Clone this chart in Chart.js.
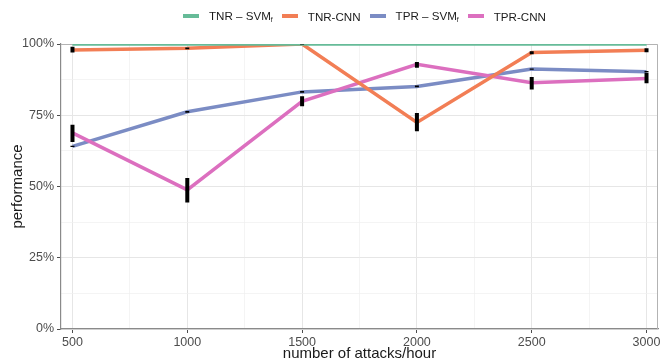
<!DOCTYPE html>
<html>
<head>
<meta charset="utf-8">
<script src="https://cdn.jsdelivr.net/npm/chart.js@4"></script>
<style>
  body { margin: 0; background: #fff; font-family: "Liberation Sans", Arial, sans-serif; }
  #wrap { position: relative; width: 668px; height: 363px; }
  #legend { position: absolute; top: 9px; left: 183px; display: flex; align-items: center; font-size: 11.6px; color: #1a1a1a; }
  #legend .item { display: flex; align-items: center; margin-right: 9px; }
  #legend .sw { width: 16px; height: 4px; margin-right: 10px; }
  #legend sub { font-size: 7px; vertical-align: -2px; }
</style>
</head>
<body>
<div id="wrap">
  <canvas id="myChartCanvas" width="668" height="363"></canvas>
  <div id="legend"></div>
</div>
<script>
var attacks = [500, 1000, 1500, 2000, 2500, 3000];
var xTicks = [500, 750, 1000, 1250, 1500, 1750, 2000, 2250, 2500, 2750, 3000];
var yTicks = [0, 0.125, 0.25, 0.375, 0.5, 0.625, 0.75, 0.875, 1];

var tnr_svm = [1, 1, 1, 1, 1, 1];
var tnr_cnn = [0.979, 0.985, 1.0, 0.725, 0.970, 0.978];
var tpr_svm = [0.641, 0.762, 0.832, 0.851, 0.912, 0.903];
var tpr_cnn = [0.688, 0.488, 0.799, 0.929, 0.864, 0.879];

// error bar ends
var tnr_cnn_lo = [0.970, 0.982, 0.998, 0.694, 0.964, 0.971];
var tnr_cnn_hi = [0.990, 0.988, 1.000, 0.758, 0.975, 0.985];
var tpr_svm_lo = [0.639, 0.759, 0.829, 0.848, 0.910, 0.901];
var tpr_svm_hi = [0.643, 0.765, 0.835, 0.854, 0.914, 0.905];
var tpr_cnn_lo = [0.656, 0.444, 0.782, 0.917, 0.840, 0.862];
var tpr_cnn_hi = [0.717, 0.530, 0.817, 0.937, 0.884, 0.899];

var series = [
    { label: 'TNR \u2013 SVM', sub: 'f', values: tnr_svm, color: '#66bb98', lo: null, hi: null, order: 1 },
    { label: 'TNR-CNN', sub: '', values: tnr_cnn, color: '#f27e55', lo: tnr_cnn_lo, hi: tnr_cnn_hi, order: 2 },
    { label: 'TPR \u2013 SVM', sub: 'f', values: tpr_svm, color: '#7b8cc4', lo: tpr_svm_lo, hi: tpr_svm_hi, order: 3 },
    { label: 'TPR-CNN', sub: '', values: tpr_cnn, color: '#dc6fbf', lo: tpr_cnn_lo, hi: tpr_cnn_hi, order: 2 }
];

function make_points(values) {
    let pts = [];
    for (let i = 0; i < attacks.length; i++) pts.push({ x: attacks[i], y: values[i] });
    return pts;
}

function make_error_points(lo, hi) {
    let pts = [];
    for (let i = 0; i < attacks.length; i++) {
        pts.push({ x: attacks[i], y: lo[i] });
        pts.push({ x: attacks[i], y: hi[i] });
        pts.push({ x: attacks[i], y: null });
    }
    return pts;
}

let datasets = [];
for (let s of series) {
    datasets.push({
        label: s.label + s.sub,
        data: make_points(s.values),
        borderColor: s.color,
        backgroundColor: s.color,
        borderWidth: 3.5,
        pointRadius: 0,
        tension: 0,
        order: s.order
    });
}
for (let s of series) {
    if (s.lo == null) continue;
    datasets.push({
        label: 'err',
        data: make_error_points(s.lo, s.hi),
        borderColor: '#000',
        borderWidth: 4,
        borderCapStyle: 'butt',
        pointRadius: 0,
        spanGaps: false,
        order: 0
    });
}

// html legend with subscripts
let legendDiv = document.getElementById('legend');
for (let s of series) {
    let item = document.createElement('div');
    item.className = 'item';
    item.innerHTML = '<span class="sw" style="background:' + s.color + '"></span><span>' + s.label +
        (s.sub ? '<sub>' + s.sub + '</sub>' : '') + '</span>';
    legendDiv.appendChild(item);
}

const panelBorder = {
    id: 'panelBorder',
    beforeDatasetsDraw(chart) {
        let a = chart.chartArea, ctx = chart.ctx;
        ctx.save();
        ctx.strokeStyle = '#b3b3b3';
        ctx.lineWidth = 1;
        ctx.beginPath();
        ctx.moveTo(a.left, a.top + 0.5);
        ctx.lineTo(a.right - 0.5, a.top + 0.5);
        ctx.lineTo(a.right - 0.5, a.bottom);
        ctx.stroke();
        ctx.restore();
    }
};

const isMajorX = v => v % 500 === 0;
const isMajorY = v => Math.abs(v * 4 - Math.round(v * 4)) < 1e-6;

Chart.defaults.font.family = '"Liberation Sans", Arial, sans-serif';
Chart.defaults.animation = false;

new Chart(document.getElementById('myChartCanvas'), {
    type: 'line',
    data: { datasets: datasets },
    plugins: [panelBorder],
    options: {
        responsive: false,
        layout: { padding: { top: 44, right: 10, left: 9, bottom: 0 } },
        plugins: { legend: { display: false }, tooltip: { enabled: false } },
        scales: {
            x: {
                type: 'linear',
                min: 450,
                max: 3050,
                afterBuildTicks: s => { s.ticks = xTicks.map(v => ({ value: v })); },
                afterFit: s => { s.height = 34; },
                ticks: {
                    autoSkip: false,
                    maxRotation: 0,
                    color: '#4d4d4d',
                    font: { size: 12.5 },
                    padding: 2,
                    callback: v => isMajorX(v) ? String(v) : ''
                },
                grid: {
                    color: ctx => isMajorX(ctx.tick.value) ? '#e6e6e6' : '#efefef',
                    lineWidth: ctx => isMajorX(ctx.tick.value) ? 1 : 0.7,
                    tickColor: ctx => isMajorX(ctx.tick.value) ? '#4d4d4d' : 'rgba(0,0,0,0)',
                    tickLength: 4
                },
                border: { display: true, color: '#8a8a8a', width: 1.2 },
                title: {
                    display: true,
                    text: 'number of attacks/hour',
                    color: '#1a1a1a',
                    font: { size: 15 },
                    padding: { top: 0, bottom: 0 }
                }
            },
            y: {
                min: 0,
                max: 1,
                afterBuildTicks: s => { s.ticks = yTicks.map(v => ({ value: v })); },
                afterFit: s => { s.width = 52; },
                ticks: {
                    autoSkip: false,
                    color: '#4d4d4d',
                    font: { size: 12.5 },
                    padding: 3,
                    callback: v => isMajorY(v) ? Math.round(v * 100) + '%' : ''
                },
                grid: {
                    color: ctx => isMajorY(ctx.tick.value) ? '#e6e6e6' : '#efefef',
                    lineWidth: ctx => isMajorY(ctx.tick.value) ? 1 : 0.7,
                    tickColor: ctx => isMajorY(ctx.tick.value) ? '#4d4d4d' : 'rgba(0,0,0,0)',
                    tickLength: 4
                },
                border: { display: true, color: '#8a8a8a', width: 1.2 },
                title: {
                    display: true,
                    text: 'performance',
                    color: '#1a1a1a',
                    font: { size: 15 },
                    padding: { top: 0, bottom: 0 }
                }
            }
        }
    }
});
</script>
</body>
</html>
